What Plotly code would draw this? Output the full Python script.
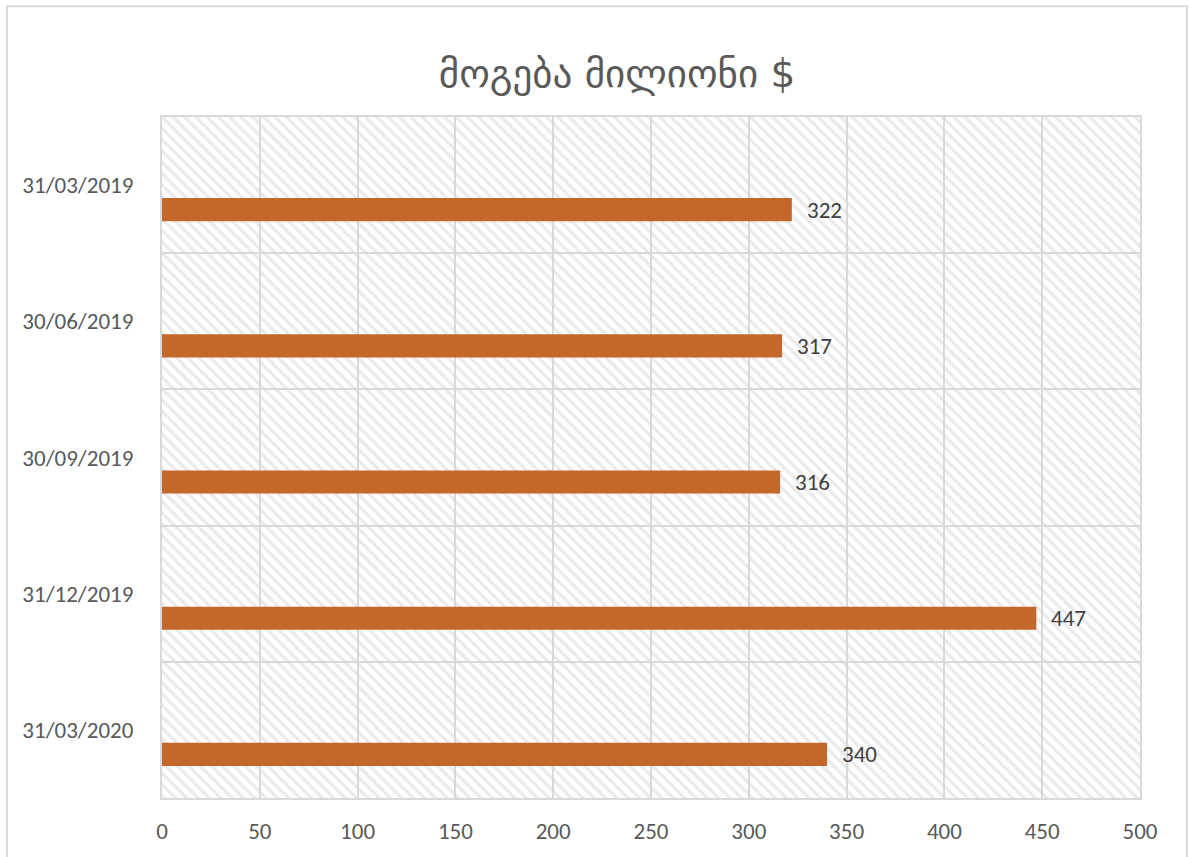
import plotly.graph_objects as go

# Quarter-end dates and profit (million $)
periods = ["31/03/2019", "30/06/2019", "30/09/2019", "31/12/2019", "31/03/2020"]
profit = [322, 317, 316, 447, 340]
x_ticks = [0, 50, 100, 150, 200, 250, 300, 350, 400, 450, 500]
x_max = 500
title_text = "მოგება მილიონი $"

# numeric band positions, first period at the top
pos = [len(periods) - 1 - i for i in range(len(periods))]

GRID = "#d9d9d9"
TEXT = "#595959"
BAR = "#c4672b"
FONT = "Calibri, Carlito, Lato, sans-serif"

fig = go.Figure()

# hatched plot-area fill: one full-width band per period (transparent between hatch lines)
fig.add_trace(go.Bar(
    x=[x_max] * len(periods), y=pos, orientation="h", width=1,
    marker=dict(color="rgba(0,0,0,0)", line=dict(width=0),
                pattern=dict(shape="\\", fgcolor="#d6d6d6", bgcolor="rgba(0,0,0,0)",
                             size=8, solidity=0.4)),
    hoverinfo="skip", showlegend=False,
))

# profit bars sit in the lower part of each band
fig.add_trace(go.Bar(
    x=profit, y=pos, orientation="h", width=0.17, offset=-0.265,
    marker=dict(color=BAR, line=dict(width=0)),
    showlegend=False,
))

for v, p in zip(profit, pos):
    fig.add_annotation(
        x=v, y=p - 0.18, text=str(v), showarrow=False,
        xanchor="left", yanchor="middle", xshift=13,
        font=dict(family=FONT, size=23, color="#404040"),
    )

# light chart border
fig.add_shape(type="rect", xref="paper", yref="paper",
              x0=-0.1585, x1=1.048, y0=-0.12, y1=1.1625,
              line=dict(color=GRID, width=2), fillcolor="rgba(0,0,0,0)", layer="below")

fig.update_layout(
    width=1189, height=857,
    margin=dict(l=162, r=49, t=117, b=59, autoexpand=False),
    paper_bgcolor="white", plot_bgcolor="white",
    barmode="overlay",
    title=dict(text=title_text, x=0.519, xanchor="center",
               y=1 - 73 / 857, yanchor="middle", yref="container",
               font=dict(family="DejaVu Sans, Noto Sans", size=39, color=TEXT)),
    xaxis=dict(range=[0, x_max], tickvals=x_ticks, showgrid=True, gridcolor=GRID,
               gridwidth=2, zeroline=False, showline=True, mirror=True,
               linecolor=GRID, linewidth=2, ticks="outside", ticklen=0,
               ticklabelstandoff=11, layer="above traces", automargin=False,
               tickfont=dict(family=FONT, size=23, color=TEXT)),
    yaxis=dict(range=[-0.5, len(periods) - 0.5], tickvals=pos, ticktext=periods,
               showgrid=False, zeroline=False, showline=True, mirror=True,
               linecolor=GRID, linewidth=2, ticks="outside", ticklen=0,
               ticklabelstandoff=22, layer="above traces", automargin=False,
               minor=dict(tickvals=[p + 0.5 for p in range(-1, len(periods))],
                          showgrid=True, gridcolor=GRID, gridwidth=2),
               tickfont=dict(family=FONT, size=23, color=TEXT)),
)

fig.write_html("out.html")
